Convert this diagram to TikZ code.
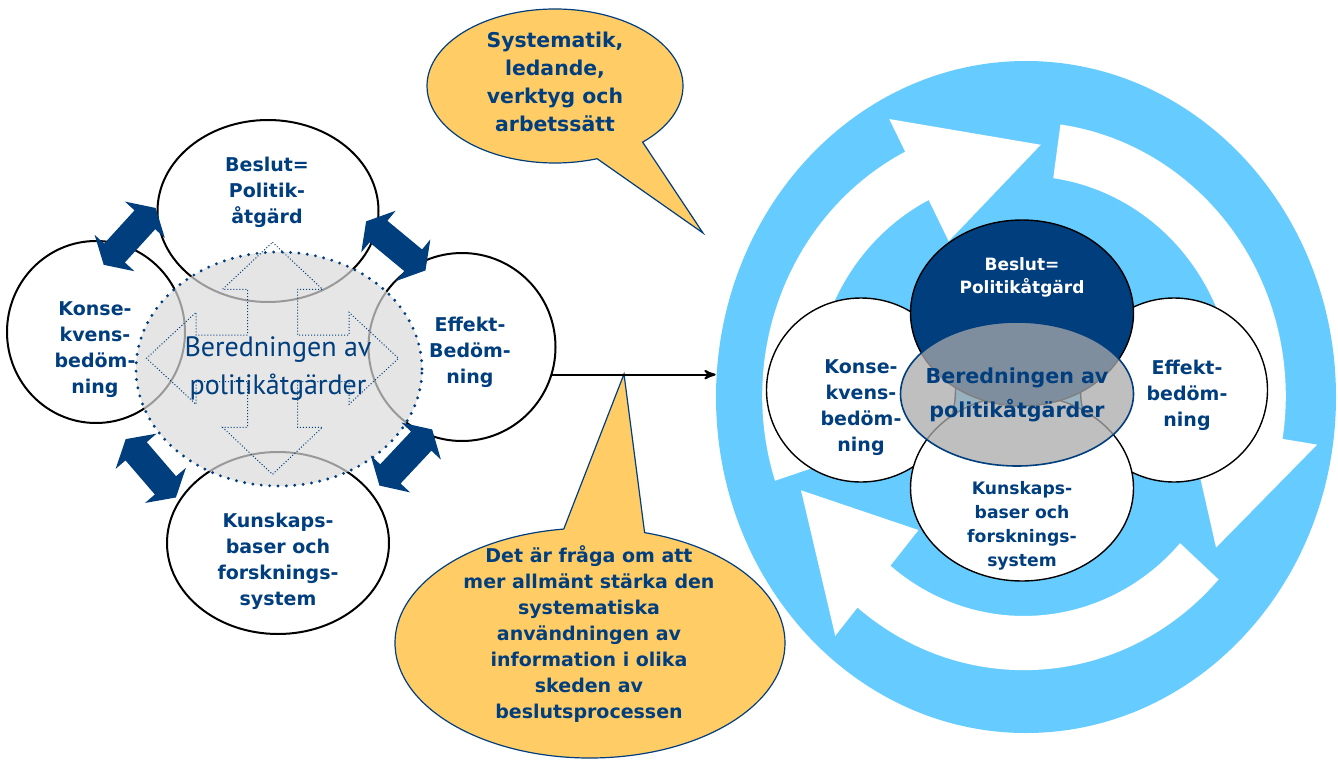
\documentclass[tikz,border=0pt]{standalone}
\usepackage{fontspec}
\setmainfont{DejaVu Sans}
\newfontfamily\thinfont{PT Sans}
\usepackage{tikz}
\usetikzlibrary{shapes.geometric,shapes.callouts,arrows}

\definecolor{navy}{RGB}{0,62,126}
\definecolor{sand}{RGB}{255,204,102}
\definecolor{sky}{RGB}{102,204,255}
\definecolor{haze}{RGB}{219,219,219}
\definecolor{smoke}{RGB}{170,170,170}

\begin{document}
\begin{tikzpicture}[x=0.5pt,y=-0.5pt,>=stealth',
  blob/.style={ellipse,draw,line width=1pt,fill=white,inner sep=0pt},
  word/.style={align=center,text=navy,font=\bfseries\fontsize{9.5}{13}\selectfont},
  bubble/.style={ellipse callout,draw=navy,line width=0.6pt,fill=sand,inner sep=0pt,callout pointer arc=24},
  fat arrow/.pic={\fill[navy] (-38.5,0) -- (-22.5,27) -- (-22.5,14) -- (22.5,14) -- (22.5,27)
    -- (38.5,0) -- (22.5,-27) -- (22.5,-14) -- (-22.5,-14) -- (-22.5,-27) -- cycle;}]

  \useasboundingbox (0,0) rectangle (1338,760);

  \node[bubble,minimum width=128pt,minimum height=77pt,callout absolute pointer={(703,233)}] (sys) at (555,86) {};
  \node[word,font=\bfseries\fontsize{10.2}{14}\selectfont] (tsys) at (555,82) {Systematik,\\ledande,\\verktyg och\\arbetssätt};

  \node[blob,minimum width=110.5pt,minimum height=91pt] (beslut) at (268,211) {};
  \node[blob,minimum width=89pt,minimum height=91pt] (konse) at (96,332) {};
  \node[blob,minimum width=93.5pt,minimum height=94pt] (effekt) at (462,347) {};
  \node[blob,minimum width=111pt,minimum height=91pt] (kunskap) at (278,543) {};
  \node[ellipse,inner sep=0pt,minimum width=143pt,minimum height=117pt,fill=haze,fill opacity=0.7,
    draw=navy,line width=1.6pt,line cap=round,dash pattern=on 0pt off 4.2pt] (bered) at (279,369) {};

  \begin{scope}[shift={(272.5,358.3)}]
    \draw[navy,line width=0.5pt,densely dotted] (0,-116) -- (50,-69) -- (25,-69) -- (25,-23.3) -- (76.5,-23.3)
      -- (76.5,-46) -- (126,0) -- (76.5,46) -- (76.5,23.3) -- (25,23.3) -- (25,69) -- (50,69) -- (0,116)
      -- (-50,69) -- (-25,69) -- (-25,23.3) -- (-76.5,23.3) -- (-76.5,46) -- (-126,0) -- (-76.5,-46)
      -- (-76.5,-23.3) -- (-25,-23.3) -- (-25,-69) -- (-50,-69) -- cycle;
  \end{scope}

  \node[text=navy,align=center,font=\thinfont\fontsize{14}{19}\selectfont] (tbered) at (278,369) {Beredningen av\\politikåtgärder};
  \node[word] (tbeslut) at (267,192) {Beslut=\\Politik-\\åtgärd};
  \node[word] (tkonse) at (95,350) {Konse-\\kvens-\\bedöm-\\ning};
  \node[word] (teffekt) at (470,352) {Effekt-\\Bedöm-\\ning};
  \node[word] (tkunskap) at (278,561) {Kunskaps-\\baser och\\forsknings-\\system};

  \pic[rotate=47.6] at (129.7,236.4) {fat arrow};
  \pic[rotate=-39.6] at (395.8,245.9) {fat arrow};
  \pic[rotate=-49.3] at (150.8,468.3) {fat arrow};
  \pic[rotate=46.8] at (405.8,457.5) {fat arrow};

  \node[ellipse,fill=sky,inner sep=0pt,minimum width=310pt,minimum height=336pt] (ring) at (1026,397) {};
  \begin{scope}[shift={(1024,396)},x=152.2pt,y=159.4pt]
    \foreach \t/\b/\p in {198/117/86, 82/-9/-37, -42/-129.5/-158}
      \fill[white] (\t:0.86) arc[start angle=\t,end angle=\b,radius=0.86] -- (\b:0.975) -- (\p:0.79)
        -- (\b:0.545) -- (\b:0.69) arc[start angle=\b,end angle=\t,radius=0.69] -- cycle;
  \end{scope}

  \coordinate (hook) at (624,374);
  \node[bubble,minimum width=195pt,minimum height=115pt,callout absolute pointer={(hook)}] (info) at (590,643) {};
  \node[word] (tinfo) at (589,634) {Det är fråga om att\\mer allmänt stärka den\\systematiska\\användningen av\\information i olika\\skeden av\\beslutsprocessen};
  \draw[->,line width=1pt] (effekt.-17) -- (effekt.-17 -| ring.west);

  \node[blob,line width=0.7pt,minimum width=94.5pt,minimum height=92pt] (konseR) at (861,390) {};
  \node[blob,line width=0.7pt,minimum width=93.5pt,minimum height=92pt] (effektR) at (1174,390) {};
  \node[blob,line width=0.7pt,minimum width=111.5pt,minimum height=93pt] (kunskapR) at (1022,488) {};
  \node[blob,line width=0.7pt,fill=navy,minimum width=111.5pt,minimum height=93pt] (beslutR) at (1022,313) {};
  \node[ellipse,inner sep=0pt,draw=navy,line width=0.8pt,fill=smoke,fill opacity=0.75,
    minimum width=116.5pt,minimum height=72pt] (beredR) at (1017,394) {};

  \node[word,text=white,font=\bfseries\fontsize{8.5}{11.5}\selectfont] (tbeslutR) at (1022,277) {Beslut=\\Politikåtgärd};
  \node[word] (tkonseR) at (861,408) {Konse-\\kvens-\\bedöm-\\ning};
  \node[word] (teffektR) at (1187,395) {Effekt-\\bedöm-\\ning};
  \node[word,font=\bfseries\fontsize{8.6}{12}\selectfont] (tkunskapR) at (1022,526) {Kunskaps-\\baser och\\forsknings-\\system};
  \node[word,font=\bfseries\fontsize{10.3}{17}\selectfont] (tberedR) at (1017,395) {Beredningen av\\politikåtgärder};
\end{tikzpicture}
\end{document}
